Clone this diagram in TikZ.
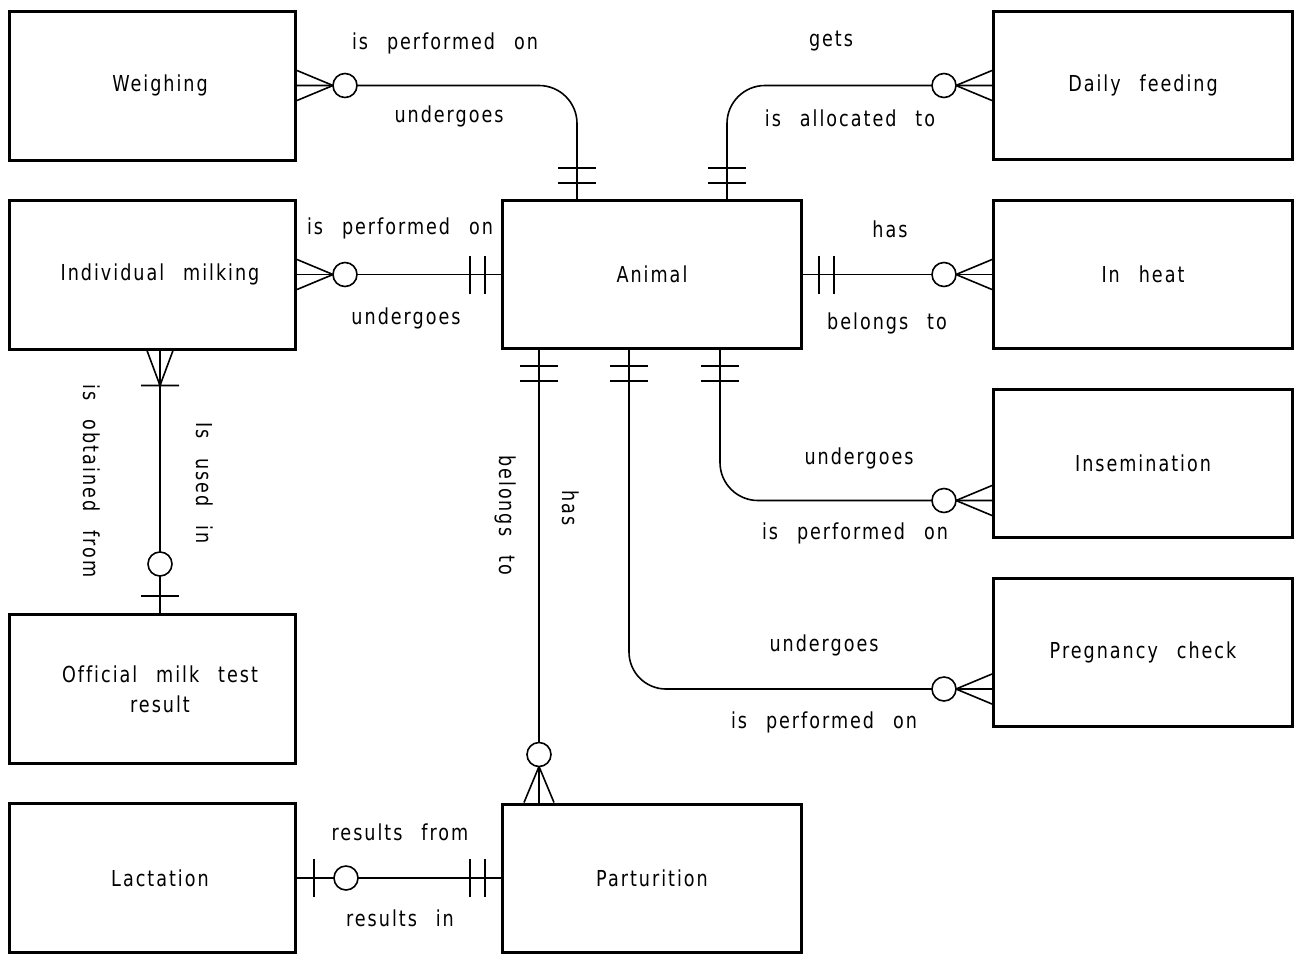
\documentclass[tikz,border=0pt]{standalone}
\usepackage{fontspec}
\setmainfont{DejaVu Sans}[FakeStretch=0.8, LetterSpace=9, WordSpace=2.5, Ligatures={NoCommon}]
\usetikzlibrary{calc}
\begin{document}
\begin{tikzpicture}[x=1pt,y=-1pt,
  every node/.style={font=\fontsize{22}{30}\selectfont},
  lbox/.style={draw, line width=3pt, minimum width=286pt, minimum height=149pt, inner sep=0pt},
  wbox/.style={draw, line width=3pt, minimum width=299pt, minimum height=148pt, inner sep=0pt},
  conn/.style={line width=1.6pt},
  zmany/.pic={\draw[conn] (0,-15)--(36,0)--(0,15); \draw[conn,fill=white] (48,0) circle[radius=12pt];},
  oneone/.pic={\draw[conn] (16,-19)--(16,19) (31,-19)--(31,19);},
  onemany/.pic={\draw[conn] (0,-13)--(35,0)--(0,13) (35,-19)--(35,19);},
  zone/.pic={\draw[conn] (17,-19)--(17,19); \draw[conn,fill=white] (49,0) circle[radius=12pt];}
]
\useasboundingbox (0,0) rectangle (1297,954);

% entities
\node[lbox] (weigh) at (152.5,85.5) {};
\node[lbox] (milk)  at (152.5,274.5) {};
\node[lbox] (omt)   at (152.5,689) {};
\node[lbox] (lact)  at (152.5,878) {};
\node[wbox] (animal) at (652,274.5) {Animal};
\node[wbox] (part)   at (652,878) {Parturition};
\node[wbox] (feed)   at (1143,85.5) {Daily feeding};
\node[wbox] (heat)   at (1143,274.5) {In heat};
\node[wbox] (insem)  at (1143,463.5) {Insemination};
\node[wbox] (preg)   at (1143,652) {Pregnancy check};

\node (weigh-t) at ([xshift=7.5pt]weigh.center) {Weighing};
\node (milk-t)  at ([xshift=7.5pt]milk.center) {Individual milking};
\node[align=center] (omt-t) at ([xshift=7.5pt]omt.center) {Official milk test\\result};
\node (lact-t)  at ([xshift=7.5pt]lact.center) {Lactation};

% connectors
\draw[conn, rounded corners=38pt] (weigh.east) -| ([xshift=-75pt]animal.north);
\draw[conn, rounded corners=38pt] (feed.west) -| ([xshift=75pt]animal.north);
\draw[conn] (milk.east) -- (animal.west);
\draw[conn] (animal.east) -- (heat.west);
\draw[conn, rounded corners=38pt] ([xshift=68pt]animal.south) |- ([yshift=-37pt]insem.west);
\draw[conn, rounded corners=37pt] ([xshift=-23pt]animal.south) |- ([yshift=-37pt]preg.west);
\draw[conn] ([xshift=-113pt]animal.south) -- ([xshift=-113pt]part.north);
\draw[conn] ([xshift=7.5pt]milk.south) -- ([xshift=7.5pt]omt.north);
\draw[conn] (lact.east) -- (part.west);

% cardinality marks
\path (weigh.east) pic{zmany};
\path ([xshift=-75pt]animal.north) pic[rotate=90]{oneone};
\path (feed.west) pic[rotate=180]{zmany};
\path ([xshift=75pt]animal.north) pic[rotate=90]{oneone};
\path (milk.east) pic{zmany};
\path (animal.west) pic[rotate=180]{oneone};
\path (animal.east) pic{oneone};
\path (heat.west) pic[rotate=180]{zmany};
\path ([xshift=68pt]animal.south) pic[rotate=-90]{oneone};
\path ([yshift=-37pt]insem.west) pic[rotate=180]{zmany};
\path ([xshift=-23pt]animal.south) pic[rotate=-90]{oneone};
\path ([yshift=-37pt]preg.west) pic[rotate=180]{zmany};
\path ([xshift=-113pt]animal.south) pic[rotate=-90]{oneone};
\path ([xshift=-113pt]part.north) pic[rotate=90]{zmany};
\path ([xshift=7.5pt]milk.south) pic[rotate=-90]{onemany};
\path ([xshift=7.5pt]omt.north) pic[rotate=90]{zone};
\path (lact.east) pic{zone};
\path (part.west) pic[rotate=180]{oneone};

% relationship labels
\node (l1) at (445,43) {is performed on};
\node (l2) at (449,116) {undergoes};
\node (l3) at (831,41) {gets};
\node (l4) at (850,118) {is allocated to};
\node (l5) at (400,228) {is performed on};
\node (l6) at (406,318) {undergoes};
\node (l7) at (890,229) {has};
\node (l8) at (887,323) {belongs to};
\node (l9) at (859,458) {undergoes};
\node (l10) at (855,533) {is performed on};
\node (l11) at (824,645) {undergoes};
\node (l12) at (824,722) {is performed on};
\node[rotate=-90] (l13) at (506,515) {belongs to};
\node[rotate=-90] (l14) at (571,508) {has};
\node[rotate=-90] (l15) at (92,481) {is obtained from};
\node[rotate=-90] (l16) at (205,483) {Is used in};
\node (l17) at (400,832) {results from};
\node (l18) at (400,918) {results in};
\end{tikzpicture}
\end{document}
